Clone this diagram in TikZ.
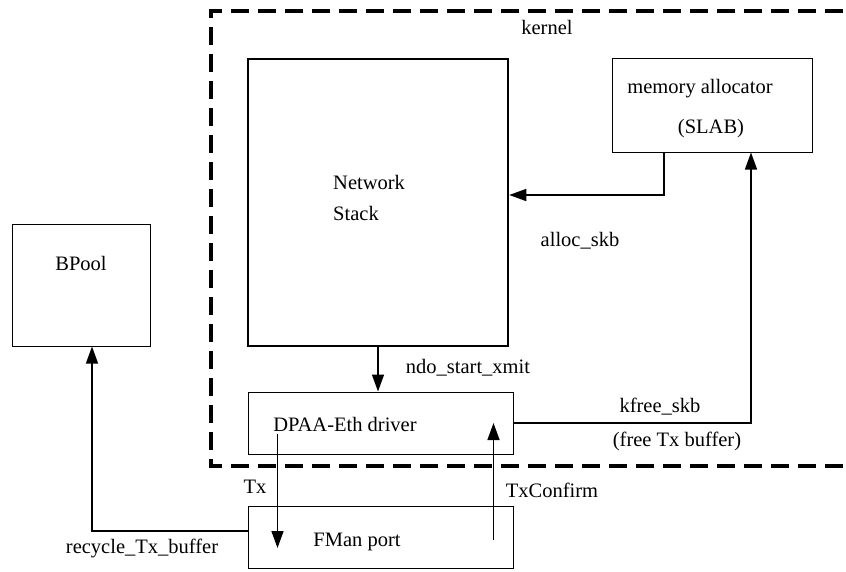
\documentclass[tikz,border=0pt]{standalone}
\usepackage{fontspec}
\newfontfamily\timesf{Liberation Serif}
\usetikzlibrary{arrows.meta}
\begin{document}
\begin{tikzpicture}[x=1pt,y=-1pt,
  font=\timesf\fontsize{20.5}{31}\selectfont,
  box/.style={draw, line width=1pt, inner sep=0pt, rectangle},
  lbl/.style={inner sep=0pt, anchor=center},
  arr/.style={line width=1.5pt, -{Triangle[length=17pt,width=12pt]}},
  kern/.style={line width=3.5pt, dash pattern=on 18pt off 9pt}]
\useasboundingbox (0,0) rectangle (846,571);
\clip (0,0) rectangle (846,571);
\fill[white] (0,0) rectangle (846,571);
% kernel region
\draw[kern] (870,11) -- (211,11) -- (211,466) -- (870,466);
% boxes
\node[box, minimum width=138pt, minimum height=122pt] (bpool) at (81,285) {};
\node[box, line width=2.5pt, minimum width=260pt, minimum height=287pt] (ns) at (378,202.5) {};
\node[box, minimum width=200pt, minimum height=94pt] (mem) at (712,105) {};
\node[box, minimum width=265pt, minimum height=62pt] (dpaa) at (380.5,423) {};
\node[box, minimum width=265pt, minimum height=62pt] (fman) at (380.5,537) {};
% box texts
\node[lbl] (tbpool) at (81,263) {BPool};
\node[lbl] (tmem1) at (700,89) {memory allocator};
\node[lbl] (tmem2) at (711,129) {(SLAB)};
\node[lbl, anchor=west, align=left] (tns) at (333,198) {Network\\Stack};
\node[lbl] (tdpaa) at (345,424) {DPAA-Eth driver};
\node[lbl] (tfman) at (357,542) {FMan port};
\node[lbl] (tkernel) at (547,27) {kernel};
% connectors
\draw[arr] ([xshift=-48pt]mem.south) |- ([yshift=7.5pt]ns.east);
\draw[arr] (ns.south) -- (ns.south |- dpaa.north);
\draw[arr] (dpaa.east) -| ([xshift=39pt]mem.south);
\draw[arr] ([yshift=6pt]fman.west) -| ([xshift=11pt]bpool.south);
\draw[arr] ([xshift=30pt,yshift=-11pt]dpaa.west) -- ([xshift=30pt,yshift=-11pt]fman.west);
\draw[arr] ([xshift=-20pt,yshift=-3pt]fman.east) -- ([xshift=-20pt]dpaa.east);
% connector labels
\node[lbl] (lalloc) at (580,241) {alloc\_skb};
\node[lbl] (lndo) at (468,368) {ndo\_start\_xmit};
\node[lbl] (lkfree) at (660,407) {kfree\_skb};
\node[lbl] (lfree) at (677,441) {(free Tx buffer)};
\node[lbl] (ltxc) at (552,490) {TxConfirm};
\node[lbl] (ltx) at (255,487) {Tx};
\node[lbl] (lrec) at (142,548) {recycle\_Tx\_buffer};
\end{tikzpicture}
\end{document}
